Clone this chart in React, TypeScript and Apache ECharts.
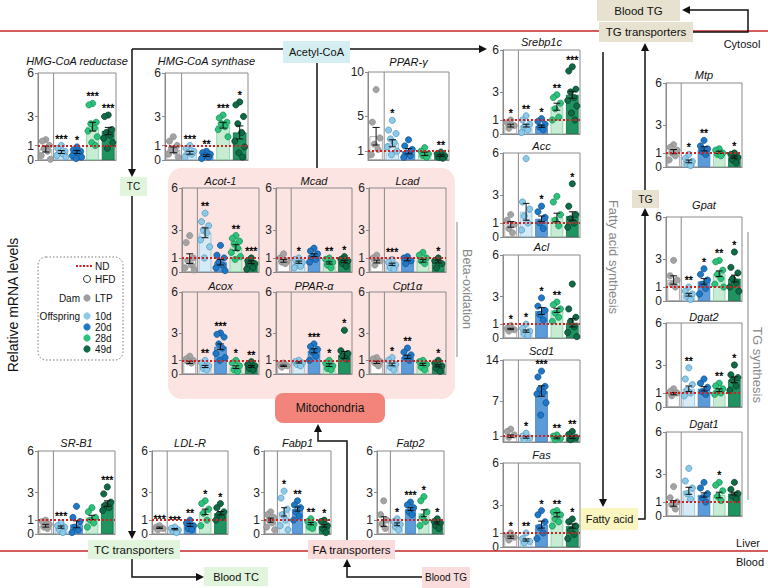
import React, { useEffect, useRef } from "react";
import * as echarts from "echarts";

const FONT = '"Liberation Sans", Arial, sans-serif';
const groups = ["LTP", "10d", "20d", "28d", "49d"];
const ticks6 = [0, 1, 3, 6];
const ticks10 = [0, 1, 5, 10];
const ticks14 = [0, 1, 7, 14];

// HMG-CoA reductase
const M_hmgcr = [0.75, 0.55, 0.55, 2.3, 2.0];
const S_hmgcr = [0.2, 0.1, 0.1, 0.3, 0.25];
const T_hmgcr = ["", "***", "*", "***", "***"];
const P_hmgcr = [[1.4, 1.3, 1.0, 0.8, 0.6, 0.3, 0.05], [1.0, 0.8, 0.6, 0.5, 0.4, 0.3, 0.2], [0.9, 0.7, 0.6, 0.5, 0.4, 0.3, 0.2, 0.1], [3.9, 3.8, 2.6, 2.5, 2.2, 2.0, 1.6, 1.2, 1.0], [3.1, 3.0, 2.1, 1.9, 1.7, 1.5, 1.2, 0.8]];
// HMG-CoA synthase
const M_hmgcs = [0.7, 0.5, 0.3, 2.4, 1.9];
const S_hmgcs = [0.2, 0.1, 0.06, 0.2, 0.45];
const T_hmgcs = ["", "***", "**", "***", "*"];
const P_hmgcs = [[1.6, 1.3, 1.0, 0.8, 0.6, 0.4, 0.2], [1.0, 0.8, 0.6, 0.5, 0.4, 0.2], [0.6, 0.5, 0.4, 0.3, 0.2, 0.1], [3.1, 2.9, 2.6, 2.5, 2.3, 2.1, 1.6], [4.0, 3.8, 3.0, 2.5, 1.9, 1.3, 0.9, 0.5, 0.2]];
// PPAR-gamma
const M_pparg = [2.7, 1.9, 1.0, 0.7, 0.5];
const S_pparg = [1.0, 0.4, 0.3, 0.2, 0.1];
const T_pparg = ["", "*", "", "", "**"];
const P_pparg = [[8.0, 4.3, 2.5, 1.8, 1.2, 0.6], [4.5, 3.4, 3.0, 2.4, 2.0, 1.5, 1.0, 0.6], [2.3, 1.6, 1.2, 0.8, 0.5, 0.3], [1.4, 1.0, 0.7, 0.5, 0.3], [0.9, 0.7, 0.5, 0.3, 0.2]];
// Acot-1
const M_acot1 = [0.95, 2.8, 0.7, 1.75, 0.7];
const S_acot1 = [0.35, 0.35, 0.2, 0.2, 0.1];
const T_acot1 = ["", "**", "", "**", "***"];
const P_acot1 = [[2.6, 2.1, 1.0, 0.8, 0.5, 0.3, 0.15], [4.2, 3.6, 3.3, 3.0, 2.8, 2.3, 1.8, 1.0], [1.9, 1.2, 1.0, 0.7, 0.5, 0.3, 0.1], [2.6, 2.4, 2.2, 2.0, 1.7, 1.4, 1.1, 0.9], [1.0, 0.8, 0.6, 0.5, 0.3, 0.2]];
// Mcad
const M_mcad = [0.8, 0.7, 1.2, 0.65, 0.75];
const S_mcad = [0.1, 0.08, 0.1, 0.08, 0.08];
const T_mcad = ["", "*", "", "**", "*"];
const P_mcad = [[1.3, 1.0, 0.8, 0.7, 0.6], [1.0, 0.9, 0.7, 0.5, 0.4, 0.3], [1.7, 1.5, 1.3, 1.1, 0.9, 0.7], [1.0, 0.9, 0.7, 0.5, 0.3], [1.1, 0.9, 0.8, 0.6, 0.4]];
// Lcad
const M_lcad = [0.75, 0.55, 0.9, 0.8, 0.75];
const S_lcad = [0.1, 0.08, 0.1, 0.1, 0.1];
const T_lcad = ["", "***", "", "", "*"];
const P_lcad = [[1.2, 1.0, 0.8, 0.5], [0.9, 0.7, 0.5, 0.3, 0.2], [1.1, 1.0, 0.8, 0.6], [1.4, 1.2, 1.0, 0.8, 0.6], [1.0, 0.8, 0.6, 0.3]];
// Acox
const M_acox = [0.85, 0.55, 2.0, 0.5, 0.55];
const S_acox = [0.08, 0.08, 0.2, 0.1, 0.07];
const T_acox = ["", "**", "***", "*", "**"];
const P_acox = [[1.3, 1.1, 1.0, 0.9, 0.8], [1.0, 0.8, 0.6, 0.4, 0.3], [3.0, 2.9, 2.7, 2.2, 1.9, 1.5, 1.2, 1.0], [1.0, 0.8, 0.6, 0.3, 0.2], [0.9, 0.7, 0.6, 0.4, 0.3]];
// PPAR-alpha
const M_ppara = [0.6, 0.85, 1.7, 0.65, 1.4];
const S_ppara = [0.05, 0.05, 0.15, 0.1, 0.25];
const T_ppara = ["", "", "***", "*", "*"];
const P_ppara = [[0.8, 0.7, 0.6, 0.5], [1.0, 0.9, 0.8, 0.7, 0.6], [2.2, 2.0, 1.8, 1.6, 1.3, 1.0], [1.0, 0.8, 0.6, 0.4, 0.3], [3.2, 1.7, 1.5, 1.3, 1.1]];
// Cpt1a
const M_cpt1a = [0.85, 0.7, 1.25, 0.7, 0.6];
const S_cpt1a = [0.08, 0.1, 0.12, 0.08, 0.08];
const T_cpt1a = ["", "*", "**", "", "*"];
const P_cpt1a = [[1.2, 1.1, 0.9, 0.8, 0.6], [1.2, 1.0, 0.7, 0.5, 0.3], [1.9, 1.6, 1.4, 1.2, 1.0], [1.0, 0.9, 0.7, 0.5, 0.3], [1.0, 0.8, 0.6, 0.4, 0.2]];
// SR-B1
const M_srb1 = [0.6, 0.5, 0.7, 1.2, 2.2];
const S_srb1 = [0.1, 0.08, 0.25, 0.15, 0.2];
const T_srb1 = ["", "***", "", "", "***"];
const P_srb1 = [[1.0, 0.9, 0.7, 0.5, 0.4], [0.8, 0.6, 0.5, 0.3, 0.1], [2.0, 1.2, 0.9, 0.5, 0.3, 0.1], [1.9, 1.6, 1.2, 1.0, 0.8, 0.5], [3.4, 2.9, 2.3, 2.1, 1.9, 1.7]];
// LDL-R
const M_ldlr = [0.45, 0.35, 0.65, 1.6, 1.5];
const S_ldlr = [0.05, 0.05, 0.1, 0.2, 0.12];
const T_ldlr = ["***", "***", "**", "*", "*"];
const P_ldlr = [[0.6, 0.5, 0.4, 0.3], [0.5, 0.4, 0.3, 0.2, 0.1], [1.0, 0.8, 0.6, 0.4, 0.3], [2.4, 2.2, 1.8, 1.5, 1.0, 0.6], [2.2, 1.9, 1.6, 1.4, 1.2, 1.0]];
// Fabp1
const M_fabp1 = [1.0, 1.6, 1.8, 0.75, 0.6];
const S_fabp1 = [0.15, 0.3, 0.15, 0.08, 0.1];
const T_fabp1 = ["", "*", "**", "**", "*"];
const P_fabp1 = [[1.6, 1.4, 1.2, 1.0, 0.8, 0.5, 0.3], [3.1, 2.6, 1.8, 1.4, 1.0, 0.6, 0.3], [2.4, 2.1, 1.9, 1.6, 1.3, 1.0], [1.1, 0.9, 0.7, 0.5, 0.4], [1.0, 0.9, 0.6, 0.4, 0.1]];
// Fatp2
const M_fatp2 = [0.9, 0.7, 1.8, 1.5, 0.8];
const S_fatp2 = [0.35, 0.1, 0.1, 0.25, 0.08];
const T_fatp2 = ["", "*", "***", "*", "*"];
const P_fatp2 = [[2.4, 1.4, 1.0, 0.7, 0.4], [1.1, 0.9, 0.7, 0.5, 0.3], [2.3, 2.1, 1.9, 1.6, 1.4], [2.7, 2.4, 1.6, 1.2, 0.9, 0.6], [1.1, 0.9, 0.8, 0.6, 0.4]];
// Srebp1c
const M_srebp = [0.6, 0.6, 0.55, 1.95, 2.8];
const S_srebp = [0.1, 0.1, 0.08, 0.25, 0.25];
const T_srebp = ["*", "**", "*", "**", "***"];
const P_srebp = [[1.0, 0.8, 0.6, 0.4], [1.3, 1.0, 0.7, 0.5, 0.3, 0.1], [1.1, 0.9, 0.7, 0.5, 0.3], [2.8, 2.6, 2.2, 1.8, 1.2, 1.0], [4.8, 4.5, 3.2, 3.0, 2.6, 2.4, 2.0, 1.5, 1.0]];
// Acc
const M_acc = [0.9, 1.8, 1.3, 1.4, 1.5];
const S_acc = [0.2, 0.6, 0.2, 0.3, 0.3];
const T_acc = ["", "", "*", "", "*"];
const P_acc = [[1.6, 1.2, 0.9, 0.6, 0.3], [5.6, 2.5, 2.0, 1.5, 1.0, 0.5], [2.2, 1.8, 1.4, 1.0, 0.6], [2.9, 2.5, 1.6, 1.2, 0.8], [3.8, 2.2, 1.6, 1.3, 1.0, 0.7]];
// Acl
const M_acl = [0.65, 0.5, 1.95, 2.0, 1.1];
const S_acl = [0.05, 0.08, 0.25, 0.15, 0.3];
const T_acl = ["*", "*", "*", "**", ""];
const P_acl = [[0.9, 0.7, 0.6, 0.5], [1.0, 0.7, 0.5, 0.3, 0.2], [2.9, 2.3, 2.0, 1.7, 1.3], [2.6, 2.4, 2.1, 1.8, 1.5, 1.2], [3.9, 2.1, 1.5, 1.2, 0.8, 0.4, 0.1]];
// Scd1
const M_scd1 = [1.0, 0.8, 8.7, 0.7, 0.8];
const S_scd1 = [0.2, 0.15, 0.9, 0.15, 0.2];
const T_scd1 = ["", "*", "***", "**", "**"];
const P_scd1 = [[2.2, 1.8, 1.2, 0.8], [1.5, 1.0, 0.7, 0.4], [12.1, 11.1, 9.5, 9.0, 8.5, 8.2, 6.7, 4.6], [1.2, 1.0, 0.6, 0.4], [1.8, 1.3, 0.8, 0.4]];
// Fas
const M_fas = [0.7, 0.5, 1.6, 2.3, 1.5];
const S_fas = [0.08, 0.08, 0.25, 0.15, 0.15];
const T_fas = ["*", "**", "*", "**", "*"];
const P_fas = [[1.0, 0.8, 0.7, 0.5], [1.0, 0.6, 0.4, 0.3], [2.6, 2.3, 1.8, 1.4, 1.0, 0.6], [2.6, 2.5, 2.3, 2.0, 1.8, 1.5], [2.0, 1.8, 1.5, 1.2, 0.9, 0.6]];
// Mtp
const M_mtp = [1.1, 0.4, 1.3, 1.05, 0.7];
const S_mtp = [0.15, 0.1, 0.15, 0.08, 0.08];
const T_mtp = ["", "*", "**", "", "*"];
const P_mtp = [[1.6, 1.4, 1.2, 1.0, 0.8, 0.5], [0.9, 0.6, 0.4, 0.2, 0.1], [1.9, 1.5, 1.3, 1.1, 0.9], [1.3, 1.2, 1.0, 0.9, 0.8], [1.0, 0.9, 0.7, 0.5, 0.3]];
// Gpat
const M_gpat = [1.5, 0.45, 1.4, 1.95, 1.6];
const S_gpat = [0.3, 0.1, 0.2, 0.2, 0.25];
const T_gpat = ["", "**", "*", "**", "*"];
const P_gpat = [[2.9, 1.8, 1.5, 1.2, 1.0], [1.0, 0.7, 0.5, 0.3, 0.1], [2.3, 1.9, 1.5, 1.2, 0.9, 0.5], [2.9, 2.8, 2.2, 1.9, 1.6, 1.2, 1.0], [3.5, 2.4, 2.0, 1.6, 1.3, 1.0, 0.7]];
// Dgat2
const M_dgat2 = [0.95, 1.3, 1.3, 1.2, 1.95];
const S_dgat2 = [0.08, 0.2, 0.15, 0.1, 0.2];
const T_dgat2 = ["", "**", "", "**", "*"];
const P_dgat2 = [[1.3, 1.1, 1.0, 0.8], [2.8, 2.0, 1.6, 1.2, 1.0, 0.8], [2.0, 1.7, 1.4, 1.1, 0.9], [1.7, 1.5, 1.3, 1.1, 1.0, 0.9], [3.0, 2.3, 2.1, 1.9, 1.5, 1.2]];
// Dgat1
const M_dgat1 = [0.9, 1.8, 1.5, 1.5, 1.6];
const S_dgat1 = [0.2, 0.25, 0.15, 0.2, 0.1];
const T_dgat1 = ["", "", "", "*", ""];
const P_dgat1 = [[2.1, 1.3, 1.0, 0.8, 0.5], [3.4, 2.5, 2.0, 1.6, 1.2], [2.4, 2.0, 1.6, 1.3, 1.0], [2.4, 2.2, 1.8, 1.4, 1.1], [2.4, 1.9, 1.6, 1.4, 1.2]];

const barFill = ["#ffffff", "#d6eaf5", "#5b9bd8", "#c7ebd3", "#1f9461"];
const barLine = ["#9a9a9a", "#8fbcd8", "#3d7fc4", "#7fcf9f", "#0f6b44"];
const ptFill = ["#a3a3a3", "#8ccae8", "#1f78c6", "#2cc27c", "#0e6b45"];
const ptLine = ["#8a8a8a", "#4d93bf", "#0d4f8c", "#118a50", "#053a24"];

// layout: title, grid box, title y, axis ticks, data
const panels = [
  { title: "HMG-CoA reductase", l: 38, t: 73, w: 78, h: 87, ty: 61, ticks: ticks6, d: [M_hmgcr, S_hmgcr, T_hmgcr, P_hmgcr] },
  { title: "HMG-CoA synthase", l: 165, t: 73, w: 83, h: 87, ty: 61, ticks: ticks6, d: [M_hmgcs, S_hmgcs, T_hmgcs, P_hmgcs] },
  { title: "PPAR-γ", l: 368, t: 72, w: 81, h: 88, ty: 62, ticks: ticks10, d: [M_pparg, S_pparg, T_pparg, P_pparg] },
  { title: "Acot-1", l: 182, t: 188, w: 77, h: 84, ty: 181, ticks: ticks6, d: [M_acot1, S_acot1, T_acot1, P_acot1] },
  { title: "Mcad", l: 276, t: 188, w: 76, h: 84, ty: 181, ticks: ticks6, d: [M_mcad, S_mcad, T_mcad, P_mcad] },
  { title: "Lcad", l: 369, t: 188, w: 77, h: 84, ty: 181, ticks: ticks6, d: [M_lcad, S_lcad, T_lcad, P_lcad] },
  { title: "Acox", l: 182, t: 292, w: 77, h: 82, ty: 286, ticks: ticks6, d: [M_acox, S_acox, T_acox, P_acox] },
  { title: "PPAR-α", l: 276, t: 292, w: 76, h: 82, ty: 286, ticks: ticks6, d: [M_ppara, S_ppara, T_ppara, P_ppara] },
  { title: "Cpt1α", l: 369, t: 292, w: 77, h: 82, ty: 286, ticks: ticks6, d: [M_cpt1a, S_cpt1a, T_cpt1a, P_cpt1a] },
  { title: "SR-B1", l: 38, t: 451, w: 77, h: 83, ty: 443, ticks: ticks6, d: [M_srb1, S_srb1, T_srb1, P_srb1] },
  { title: "LDL-R", l: 152, t: 451, w: 76, h: 83, ty: 443, ticks: ticks6, d: [M_ldlr, S_ldlr, T_ldlr, P_ldlr] },
  { title: "Fabp1", l: 264, t: 451, w: 67, h: 83, ty: 443, ticks: ticks6, d: [M_fabp1, S_fabp1, T_fabp1, P_fabp1] },
  { title: "Fatp2", l: 377, t: 451, w: 67, h: 83, ty: 443, ticks: ticks6, d: [M_fatp2, S_fatp2, T_fatp2, P_fatp2] },
  { title: "Srebp1c", l: 503, t: 50, w: 77, h: 84, ty: 42, ticks: ticks6, d: [M_srebp, S_srebp, T_srebp, P_srebp] },
  { title: "Acc", l: 503, t: 153, w: 77, h: 84, ty: 146, ticks: ticks6, d: [M_acc, S_acc, T_acc, P_acc] },
  { title: "Acl", l: 503, t: 255, w: 77, h: 83, ty: 247, ticks: ticks6, d: [M_acl, S_acl, T_acl, P_acl] },
  { title: "Scd1", l: 503, t: 360, w: 77, h: 82, ty: 351, ticks: ticks14, d: [M_scd1, S_scd1, T_scd1, P_scd1] },
  { title: "Fas", l: 503, t: 463, w: 77, h: 84, ty: 455, ticks: ticks6, d: [M_fas, S_fas, T_fas, P_fas] },
  { title: "Mtp", l: 666, t: 83, w: 76, h: 84, ty: 75, ticks: ticks6, d: [M_mtp, S_mtp, T_mtp, P_mtp] },
  { title: "Gpat", l: 666, t: 217, w: 76, h: 84, ty: 205, ticks: ticks6, d: [M_gpat, S_gpat, T_gpat, P_gpat] },
  { title: "Dgat2", l: 666, t: 323, w: 76, h: 84, ty: 317, ticks: ticks6, d: [M_dgat2, S_dgat2, T_dgat2, P_dgat2] },
  { title: "Dgat1", l: 666, t: 432, w: 76, h: 84, ty: 424, ticks: ticks6, d: [M_dgat1, S_dgat1, T_dgat1, P_dgat1] },
];

const jit = [0, -3.6, 3.6, -1.8, 1.8, -4.6, 4.6, -0.8, 2.7, -2.7, 0.9];

function txt(x: number, y: number, text: string, size: number, opts: any = {}) {
  const align = opts.align || "center";
  return {
    type: "text",
    x,
    y,
    rotation: opts.rotation || 0,
    z: 20,
    style: {
      text,
      fill: opts.fill || "#111",
      font: `${opts.italic ? "italic " : ""}${size}px ${FONT}`,
      align,
      textAlign: align,
      verticalAlign: "middle",
      textVerticalAlign: "middle",
    },
  };
}
function ln(points: number[][], stroke = "#111", lw = 1.5, dash: any = null) {
  return {
    type: "polyline",
    z: 15,
    shape: { points },
    style: { stroke, lineWidth: lw, fill: null, lineDash: dash },
  };
}
function arrow(x: number, y: number, dir: string) {
  let pts: number[][] = [];
  if (dir === "down") pts = [[x - 4, y - 8], [x + 4, y - 8], [x, y]];
  if (dir === "up") pts = [[x - 4, y + 8], [x + 4, y + 8], [x, y]];
  if (dir === "right") pts = [[x - 8, y - 4], [x - 8, y + 4], [x, y]];
  if (dir === "left") pts = [[x + 8, y - 4], [x + 8, y + 4], [x, y]];
  return { type: "polygon", z: 16, shape: { points: pts }, style: { fill: "#111" } };
}
function box(x: number, y: number, w: number, h: number, fill: string, label: string, size: number, r = 0) {
  return [
    { type: "rect", z: 17, shape: { x, y, width: w, height: h, r }, style: { fill } },
    txt(x + w / 2, y + h / 2, label, size),
  ];
}

function buildOption() {
  const grid: any[] = [];
  const xAxis: any[] = [];
  const yAxis: any[] = [];
  const series: any[] = [];
  const titles: any[] = [];

  panels.forEach((p, i) => {
    const [mean, sem, stars, pts] = p.d as any[];
    const ymax = p.ticks[p.ticks.length - 1];
    grid.push({ left: p.l, top: p.t, width: p.w, height: p.h, show: true, borderColor: "#8a8a8a", borderWidth: 1, backgroundColor: "transparent" });
    xAxis.push({
      type: "category", gridIndex: i, data: groups,
      axisLine: { show: true, lineStyle: { color: "#8a8a8a", width: 1 } },
      axisTick: { show: false }, axisLabel: { show: false }, splitLine: { show: false },
    });
    yAxis.push({
      type: "value", gridIndex: i, min: 0, max: ymax,
      axisLine: { show: true, lineStyle: { color: "#8a8a8a", width: 1 } },
      axisTick: { show: true, length: 3, lineStyle: { color: "#8a8a8a" }, customValues: p.ticks },
      axisLabel: { fontSize: 12, color: "#222", margin: 4, fontFamily: FONT, customValues: p.ticks },
      splitLine: { show: false },
    });
    series.push({
      type: "bar", xAxisIndex: i, yAxisIndex: i, barCategoryGap: "18%", z: 2,
      data: mean.map((v: number, j: number) => ({ value: v, itemStyle: { color: barFill[j], borderColor: barLine[j], borderWidth: 0.8 } })),
      markLine: {
        silent: true, symbol: "none", label: { show: false },
        lineStyle: { color: "#cc2222", type: [2, 2], width: 1.8 },
        data: [{ yAxis: 1 }],
      },
    });
    series.push({
      type: "custom", xAxisIndex: i, yAxisIndex: i, z: 3, clip: false,
      itemStyle: { color: "#111111" },
      data: mean.map((v: number, j: number) => [j, v]),
      renderItem: (params: any, api: any) => {
        const j = params.dataIndex;
        const c0 = api.coord([j, 0]);
        const cx = c0[0];
        const yb = c0[1];
        const bw = api.size([1, 0])[0];
        const yTop = api.coord([j, ymax])[1];
        const children: any[] = [];
        if (j === 0) {
          children.push({ type: "line", shape: { x1: cx + bw / 2, y1: yTop, x2: cx + bw / 2, y2: yb }, style: { stroke: "#8a8a8a", lineWidth: 1 } });
        }
        const sc = bw / 15.6;
        pts[j].forEach((v: number, k: number) => {
          const py = api.coord([j, v])[1];
          children.push({ type: "circle", shape: { cx: cx + jit[k % jit.length] * sc, cy: py, r: 3.1 }, style: { fill: ptFill[j], stroke: ptLine[j], lineWidth: 0.7 } });
        });
        const m = mean[j];
        const s = sem[j];
        const yh = api.coord([j, m + s])[1];
        const yl = api.coord([j, Math.max(0, m - s)])[1];
        const cap = bw * 0.22;
        const st = { stroke: "#111", lineWidth: 1 };
        children.push({ type: "line", shape: { x1: cx, y1: yh, x2: cx, y2: yl }, style: st });
        children.push({ type: "line", shape: { x1: cx - cap, y1: yh, x2: cx + cap, y2: yh }, style: st });
        children.push({ type: "line", shape: { x1: cx - cap, y1: yl, x2: cx + cap, y2: yl }, style: st });
        if (stars[j]) {
          const top = Math.max(...pts[j], m + s);
          const yy = api.coord([j, top])[1];
          children.push({
            type: "text", x: cx, y: yy - 7,
            style: { text: stars[j], fill: "#000000", stroke: "#000000", lineWidth: 0.35, font: `10.5px ${FONT}`, align: "center", textAlign: "center", verticalAlign: "middle", textVerticalAlign: "middle" },
          });
        }
        return { type: "group", children };
      },
    });
    titles.push(txt(p.l + p.w / 2, p.ty, p.title, 11, { italic: true }));
  });

  const els: any[] = [];
  // mitochondria region
  els.push({ type: "rect", z: -10, shape: { x: 168, y: 168, width: 287, height: 231, r: 14 }, style: { fill: "#fbe4e2" } });
  // membranes
  els.push(ln([[0, 31], [768, 31]], "#c62828", 1.5));
  els.push(ln([[0, 551], [768, 551]], "#c62828", 1.5));
  els.push(txt(742, 44, "Cytosol", 11));
  els.push(txt(748, 543, "Liver", 11));
  els.push(txt(750, 562, "Blood", 11));
  // Acetyl-CoA
  els.push(ln([[132, 49], [283, 49]]));
  els.push(ln([[350, 49], [480, 49]]));
  els.push(arrow(487, 49, "right"));
  els.push(...box(283, 41, 67, 22, "#d4eef1", "Acetyl-CoA", 11));
  els.push(ln([[317, 63], [317, 168]]));
  // TC path
  els.push(ln([[132, 49], [132, 170]]));
  els.push(arrow(132, 177, "down"));
  els.push(...box(120, 177, 27, 19, "#e1f4dc", "TC", 10));
  els.push(ln([[132, 196], [132, 532]]));
  els.push(arrow(132, 539, "down"));
  els.push(...box(88, 540, 92, 19, "#e1f4dc", "TC transporters", 11.5));
  els.push(ln([[132, 559], [132, 577], [197, 577]]));
  els.push(arrow(204, 577, "right"));
  els.push(...box(204, 567, 64, 19, "#e1f4dc", "Blood TC", 11));
  // FA path
  els.push(...box(308, 540, 87, 19, "#fadcdc", "FA transporters", 11.5));
  els.push(ln([[347, 540], [347, 441], [318, 441], [318, 431]]));
  els.push(arrow(318, 424, "up"));
  els.push(...box(422, 567, 48, 21, "#fadcdc", "Blood TG", 10));
  els.push(ln([[422, 577], [347, 577], [347, 566]]));
  els.push(arrow(347, 559, "up"));
  els.push(...box(275, 393, 110, 30, "#f2847c", "Mitochondria", 12, 8));
  // beta oxidation
  els.push(ln([[457, 222], [457, 357]], "#9a9a9a", 1.2));
  els.push(txt(467, 289, "Beta-oxidation", 12.5, { rotation: -Math.PI / 2, fill: "#888" }));
  // fatty acid synthesis
  els.push(ln([[603, 52], [603, 500]]));
  els.push(arrow(603, 507, "down"));
  els.push(txt(613, 257, "Fatty acid synthesis", 13, { rotation: -Math.PI / 2, fill: "#888" }));
  els.push(...box(581, 508, 57, 22, "#fbf6c0", "Fatty acid", 11));
  els.push(ln([[638, 519], [645, 519], [645, 215]]));
  els.push(arrow(645, 208, "up"));
  els.push(...box(632, 190, 27, 18, "#e6e2cf", "TG", 10.5));
  els.push(ln([[645, 190], [645, 50]]));
  els.push(arrow(645, 43, "up"));
  els.push(...box(599, 22, 94, 20, "#e6e2cf", "TG transporters", 11.5));
  els.push(ln([[693, 32], [748, 32], [748, 10], [690, 10]]));
  els.push(arrow(682, 10, "left"));
  els.push(...box(597, 0, 83, 21, "#e6e2cf", "Blood TG", 11.5));
  // TG synthesis
  els.push(ln([[748, 232], [748, 500]], "#9a9a9a", 1.2));
  els.push(txt(757, 365, "TG synthesis", 13, { rotation: -Math.PI / 2, fill: "#888" }));
  // y title
  els.push(txt(13, 305, "Relative mRNA levels", 14, { rotation: Math.PI / 2 }));
  // legend
  els.push({ type: "rect", z: 15, shape: { x: 38, y: 257, width: 85, height: 103, r: 8 }, style: { fill: null, stroke: "#777", lineWidth: 1, lineDash: [1.5, 2] } });
  els.push(ln([[76, 266], [93, 266]], "#cc2222", 1.8, [2, 1.5]));
  els.push(txt(95, 266, "ND", 10, { align: "left" }));
  els.push({ type: "circle", z: 16, shape: { cx: 87, cy: 279, r: 3.5 }, style: { fill: "#fff", stroke: "#333", lineWidth: 1 } });
  els.push(txt(95, 279, "HFD", 10, { align: "left" }));
  els.push(txt(80, 298, "Dam", 10, { align: "right" }));
  els.push(txt(80, 316, "Offspring", 10, { align: "right" }));
  const legC = ["#9e9e9e", ptFill[1], ptFill[2], ptFill[3], ptFill[4]];
  const legY = [298, 316, 327, 338, 349];
  const legT = ["LTP", "10d", "20d", "28d", "49d"];
  legC.forEach((c, k) => {
    els.push({ type: "circle", z: 16, shape: { cx: 87, cy: legY[k], r: 3.6 }, style: { fill: c } });
    els.push(txt(95, legY[k], legT[k], 10, { align: "left" }));
  });

  return {
    animation: false,
    backgroundColor: "#ffffff",
    grid, xAxis, yAxis, series,
    graphic: { elements: [...els, ...titles] },
  };
}

export default function App() {
  const ref = useRef<HTMLDivElement>(null);
  useEffect(() => {
    if (!ref.current) return;
    const chart = echarts.init(ref.current, null, { renderer: "svg", width: 768, height: 588 });
    chart.setOption(buildOption() as any);
    return () => chart.dispose();
  }, []);
  return <div ref={ref} style={{ position: "absolute", left: 0, top: 0, width: 768, height: 588, background: "#fff" }} />;
}
